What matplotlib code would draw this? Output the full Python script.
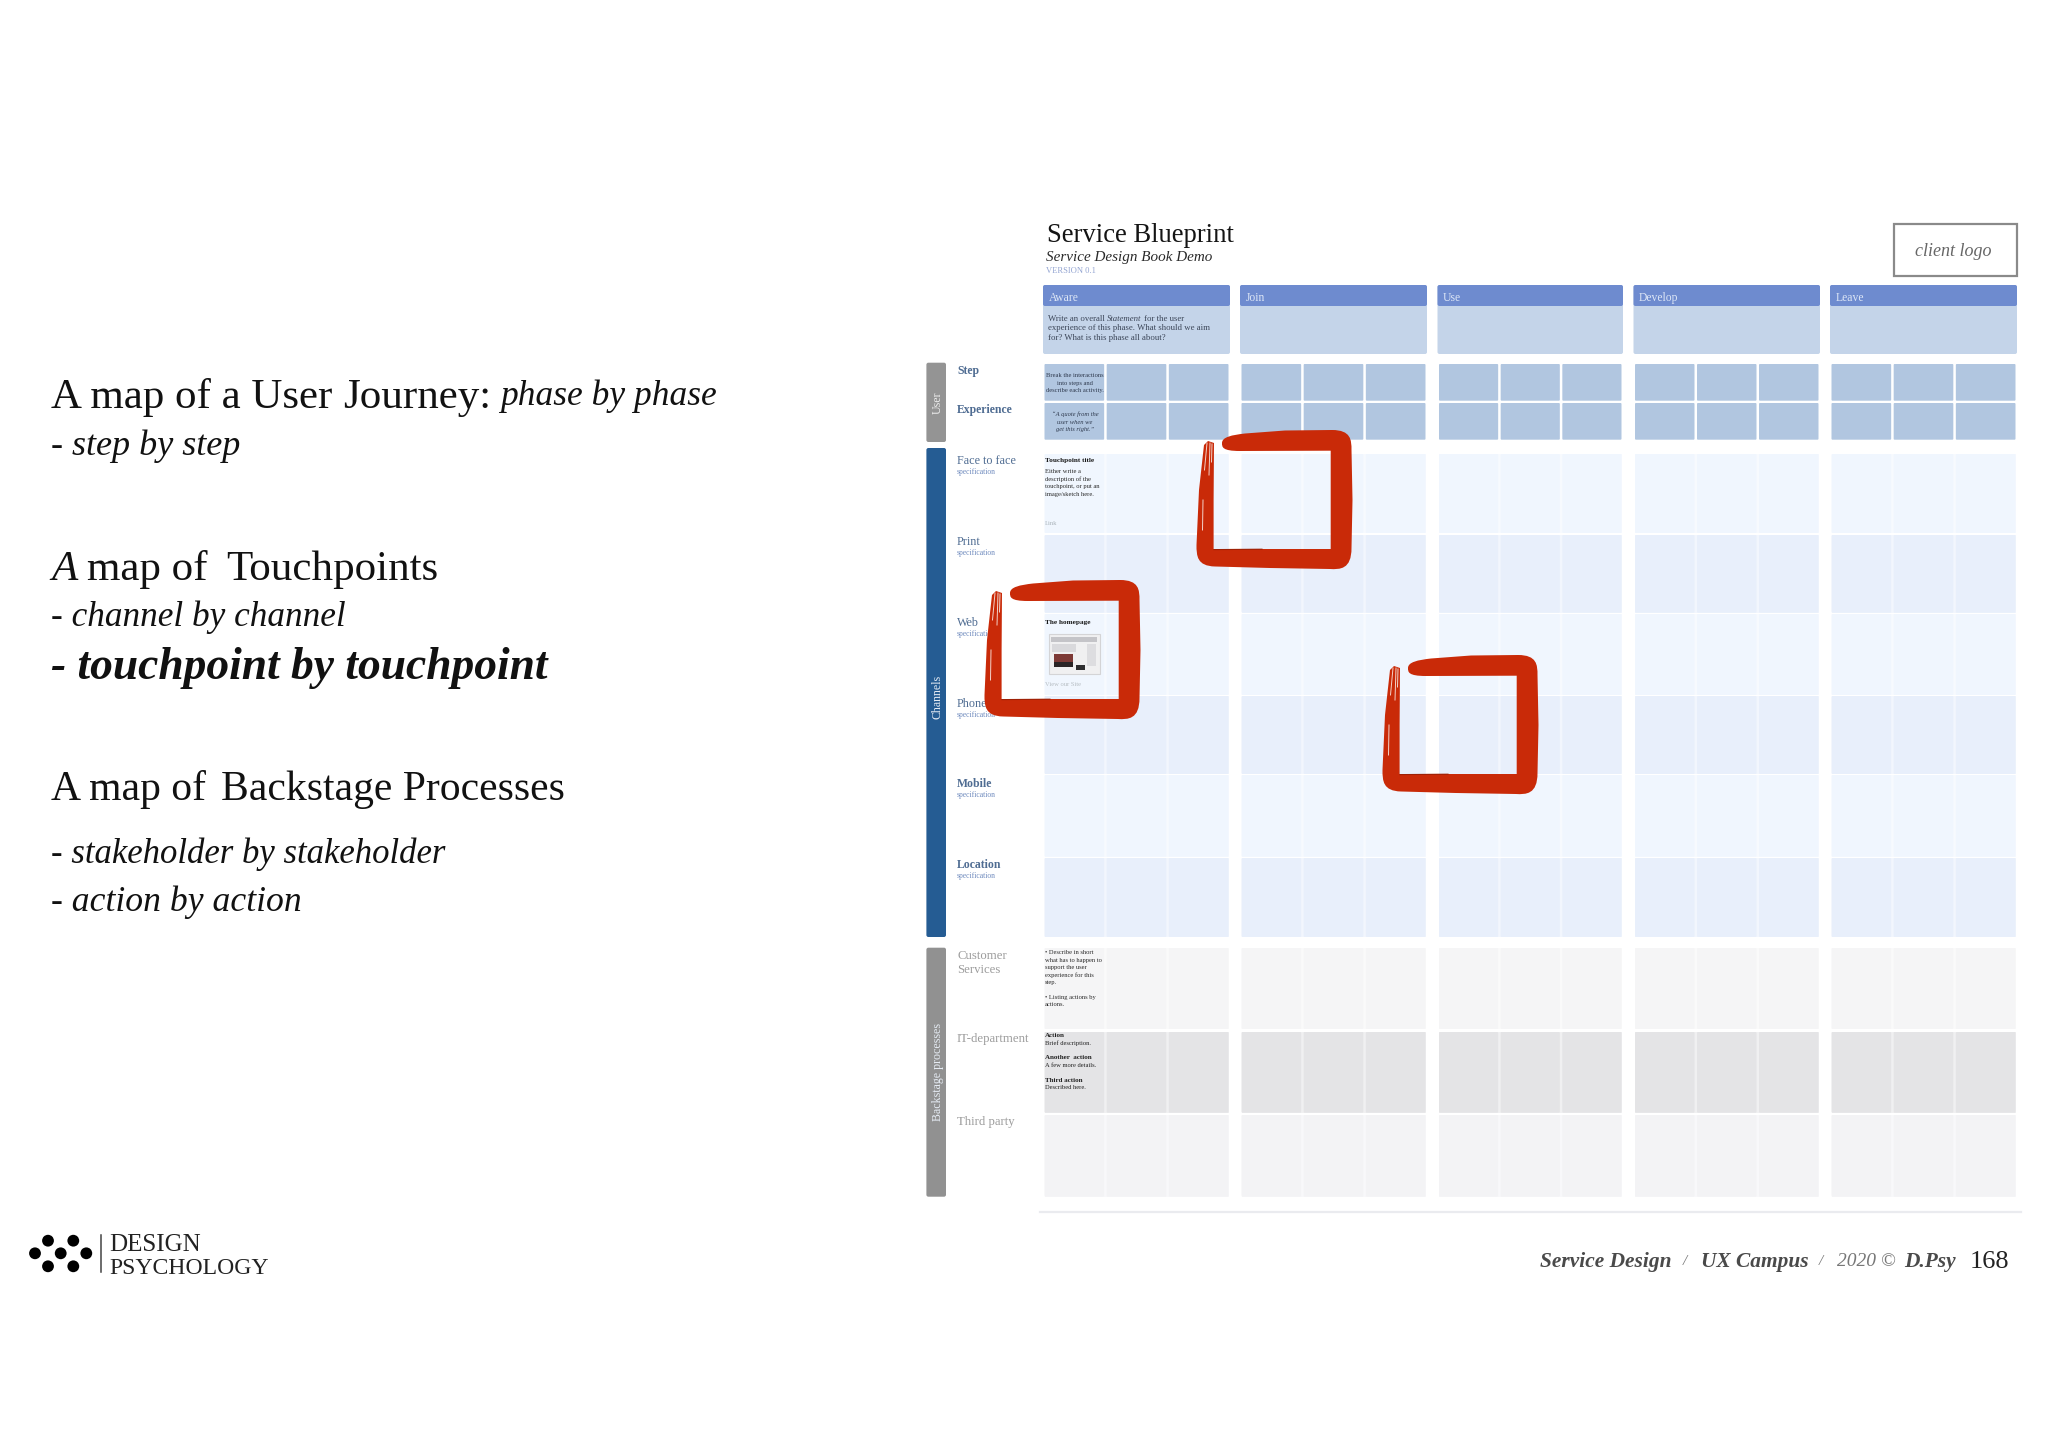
import matplotlib
matplotlib.use("Agg")
import matplotlib.pyplot as plt
from matplotlib.colors import to_rgb
from matplotlib.patches import FancyBboxPatch, Rectangle, Circle, PathPatch
from matplotlib.path import Path

SERIF = "Liberation Serif"
plt.rcParams["font.family"] = [SERIF, "DejaVu Serif"]

# ---- content ----
PHASES = ["Aware", "Join", "Use", "Develop", "Leave"]
USER_ROWS = ["Step", "Experience"]
CHANNEL_ROWS = ["Face to face", "Print", "Web", "Phone", "Mobile", "Location"]
BACKSTAGE_ROWS = ["Customer\nServices", "IT-department", "Third party"]
SIDEBARS = ["User", "Channels", "Backstage processes"]

# ---- layout (pixels) ----
PHASE_X = [(1043, 1230), (1240, 1427), (1437.5, 1623), (1633.5, 1820), (1830, 2017)]
USER_Y = [(364, 400.7), (403, 439.7)]
CHANNEL_Y = [(454, 533), (535, 612.7), (614, 695), (696, 774), (775, 856.7), (858, 937)]
BACKSTAGE_Y = [(948, 1029), (1032, 1112.7), (1115, 1196.7)]
SIDEBAR_Y = [(362.7, 442), (448, 937), (947.7, 1196.7)]
SIDEBAR_SHIFT = [0, 4, 0]
SIDEBAR_COL = ["#949494", "#255C93", "#919191"]
CHANNEL_COL = ["#F0F6FE", "#E8EFFB", "#F0F6FE", "#E8EFFB", "#F0F6FE", "#E8EFFB"]
BACKSTAGE_COL = ["#F5F5F6", "#E4E4E6", "#F3F3F5"]
SQUARE_OFFSETS = [(0, 0), (-212, 150), (186, 225)]

fig = plt.figure(figsize=(20.48, 14.47), dpi=100, facecolor="white")
ax = fig.add_axes([0, 0, 1, 1])
ax.set_xlim(0, 2048)
ax.set_ylim(1447, 0)
ax.axis("off")
renderer = fig.canvas.get_renderer()


def rbox(x0, y0, x1, y1, color, r=2.0, z=1):
    ax.add_patch(FancyBboxPatch((x0, y0), x1 - x0, y1 - y0,
                                boxstyle=f"round,pad=0,rounding_size={r}",
                                fc=color, ec="none", zorder=z))


def fade(color, k):
    return tuple(1 - (1 - v) * k for v in to_rgb(color))


def txt(x, y, s, size, color="#111111", style="normal", weight="normal", ha="left", z=5, **kw):
    # y is the middle of the capitals: the baseline sits a third of an em below it
    return ax.text(x, y + 0.32 * size * 100 / 72, s, fontsize=size, color=color, style=style,
                   weight=weight, ha=ha, va="baseline", zorder=z, **kw)


def spans(x, y, parts, color="#111111", z=5):
    """Write consecutive pieces with different styles on a line."""
    for s, size, style, weight, g in parts:
        t = txt(x, y, s, size, color, style, weight, z=z)
        x += t.get_window_extent(renderer).width + g
    return x


# ---------- left column ----------
LX = 51
spans(LX, 394, [("A map of a User", 31, "normal", "normal", 11),
                ("Journey:", 31, "normal", "normal", 9),
                ("phase by phase", 25.5, "italic", "normal", 0)])
txt(LX, 443, "- step by step", 26, style="italic")
spans(LX, 566, [("A", 31, "italic", "normal", 10),
                ("map of", 31, "normal", "normal", 18),
                ("Touchpoints", 31, "normal", "normal", 0)])
txt(LX, 615, "- channel by channel", 25.4, style="italic")
txt(LX, 664, "- touchpoint by touchpoint", 32.8, style="italic", weight="bold")
spans(LX, 787, [("A map of", 30, "normal", "normal", 15),
                ("Backstage Processes", 30, "normal", "normal", 0)])
txt(LX, 852, "- stakeholder by stakeholder", 25, style="italic")
txt(LX, 900, "- action by action", 25.7, style="italic")

# ---------- logo ----------
for cx, cy in [(48, 1240.7), (73.3, 1240.7), (35, 1253.3), (60.7, 1253.3), (86.3, 1253.3),
               (48, 1266.3), (73.3, 1266.3)]:
    ax.add_patch(Circle((cx, cy), 5.9, fc="black", ec="none", zorder=3))
ax.plot([100.7, 100.7], [1235, 1272], color="#444444", lw=1.1, zorder=3)
txt(109, 1243, "DESIGN", 18, "#222222")
txt(109, 1266, "PSYCHOLOGY", 17.1, "#222222")

# ---------- blueprint title ----------
txt(1047, 233, "Service Blueprint", 19.2, "#141414")
txt(1046, 256, "Service Design Book Demo", 10.9, "#2A2A2A", style="italic", weight="normal")
txt(1046, 270, "VERSION 0.1", 6.1, "#94A5D2")
ax.add_patch(Rectangle((1894, 224), 123, 52, fc="white", ec="#8A8A8A", lw=1.6, zorder=2))
txt(1953, 250, "client logo", 13, "#666666", style="italic", ha="center")

# ---------- phases and grids ----------
for name, (x0, x1) in zip(PHASES, PHASE_X):
    rbox(x0, 285, x1, 354, "#C4D4E9", 2)
    rbox(x0, 285, x1, 306, "#6E8BCF", 2, z=2)
    txt(x0 + 5.4, 297, name, 8.4, "#DDE6F6")
    # faint bands behind the cells keep the gutters soft in the pale rows
    for (y0, y1), c in zip(CHANNEL_Y, CHANNEL_COL):
        ax.add_patch(Rectangle((x0 + 1.5, y0), x1 - x0 - 3, y1 - y0, fc=fade(c, 0.55), ec="none", zorder=0.5))
    for (y0, y1), c in zip(BACKSTAGE_Y, BACKSTAGE_COL):
        ax.add_patch(Rectangle((x0 + 1.5, y0), x1 - x0 - 3, y1 - y0, fc=fade(c, 0.55), ec="none", zorder=0.5))
    w = (x1 - x0 - 3 - 5) / 3
    for k in range(3):
        cx0 = x0 + 1.5 + k * (w + 2.5)
        cx1 = cx0 + w
        for (y0, y1) in USER_Y:
            rbox(cx0, y0, cx1, y1, "#B1C6E0", 1)
        for (y0, y1), c in zip(CHANNEL_Y, CHANNEL_COL):
            rbox(cx0, y0, cx1, y1, c, 1)
        for (y0, y1), c in zip(BACKSTAGE_Y, BACKSTAGE_COL):
            rbox(cx0, y0, cx1, y1, c, 1)

ax.plot([1040, 2021], [1211.7, 1211.7], color="#EAEBEF", lw=1.6, zorder=1)

# ---------- side bars ----------
for name, (y0, y1), c, dy in zip(SIDEBARS, SIDEBAR_Y, SIDEBAR_COL, SIDEBAR_SHIFT):
    rbox(926.4, y0, 946, y1, c, 2, z=2)
    ax.text(937.5, (y0 + y1) / 2 + dy, name, rotation=90,
            fontsize=8.6, color="#E6ECF4" if name != "User" else "#EDEDED",
            ha="center", va="center", zorder=5)

# ---------- row labels ----------
LAB = 957
for name, y in zip(USER_ROWS, [370, 409]):
    txt(LAB, y, name, 8.5, "#4F6C92", weight="bold")
for name, y in zip(CHANNEL_ROWS, [460, 541, 622, 703, 783, 864]):
    bold = name in ("Mobile", "Location")
    txt(LAB, y, name, 8.5 if bold else 8.7, "#4F6C92", weight="bold" if bold else "normal")
    txt(LAB, y + 12, "specification", 5.5, "#6F8BBE")
txt(LAB, 955, "Customer", 9.2, "#9C9C9C")
txt(LAB, 968.5, "Services", 9.2, "#9C9C9C")
txt(LAB, 1038, "IT-department", 9.2, "#9C9C9C")
txt(LAB, 1121, "Third party", 9.2, "#9C9C9C")

# ---------- sample content in the first column ----------
SM = 4.7
spans(1048, 318, [("Write an overall", 6.3, "normal", "normal", 2.2),
                  ("Statement", 6.3, "italic", "normal", 2.2),
                  ("for the user", 6.3, "normal", "normal", 0)], color="#3C4658")
txt(1048, 327.5, "experience of this phase. What should we aim", 6.3, "#3C4658")
txt(1048, 337, "for? What is this phase all about?", 6.3, "#3C4658")

for s, y in zip(["Break the interactions", "into steps and", "describe each activity."], [375, 383, 390]):
    txt(1075, y, s, SM, "#2F3A4E", ha="center")
for s, y in zip(["\u201cA quote from the", "user when we", "get this right.\u201d"], [414, 421.5, 429]):
    txt(1075, y, s, SM, "#2F3A4E", style="italic", ha="center")

TX = 1045
txt(TX, 459.5, "Touchpoint title", 5.2, "#1A1A1A", weight="bold")
for s, y in zip(["Either write a", "description of the", "touchpoint, or put an", "image/sketch here."],
                [471, 478.5, 486, 493.5]):
    txt(TX, y, s, SM, "#2A2A2A")
txt(TX, 523, "Link", SM, "#A9B2B8")

txt(TX, 622, "The homepage", 5.2, "#1A1A1A", weight="bold")
# small screenshot placeholder
ax.add_patch(Rectangle((1048.6, 634), 51.4, 40, fc="#F0F0F1", ec="#D4D4D6", lw=0.8, zorder=3))
ax.add_patch(Rectangle((1051, 637), 46, 5, fc="#C4C4C8", ec="none", zorder=4))
ax.add_patch(Rectangle((1052, 644), 24, 8, fc="#D9D9DC", ec="none", zorder=4))
ax.add_patch(Rectangle((1054, 654), 19, 13, fc="#7D3A36", ec="none", zorder=4))
ax.add_patch(Rectangle((1054, 662), 19, 5, fc="#2A2426", ec="none", zorder=4))
ax.add_patch(Rectangle((1076, 665), 9, 5, fc="#2E2E30", ec="none", zorder=4))
ax.add_patch(Rectangle((1087, 644), 9, 22, fc="#DDDDE0", ec="none", zorder=4))
txt(TX, 684, "View our Site", SM, "#B6BDC2")

for s, y in zip(["\u2022 Describe in short", "what has to happen to", "support the user",
                 "experience for this", "step.", "\u2022 Listing actions by", "actions."],
                [952, 959.5, 967, 974.5, 982, 997, 1004]):
    txt(TX, y, s, SM, "#2A2A2A")
for s, y, w in zip(["Action", "Brief description.", "Another  action", "A few more details.",
                    "Third action", "Described here."],
                   [1035, 1042.5, 1057, 1064.5, 1079.5, 1087],
                   ["bold", "normal", "bold", "normal", "bold", "normal"]):
    txt(TX, y, s, SM + (0.3 if w == "bold" else 0), "#222222", weight=w)

# ---------- red brush squares ----------
M, L, C3, C4, Z = Path.MOVETO, Path.LINETO, Path.CURVE3, Path.CURVE4, Path.CLOSEPOLY
brush = [
    ((1222, 443), M), ((1222, 437), C4), ((1232, 435), C4), ((1245, 433.5), C4),
    ((1285, 430.5), L), ((1332, 430), L),
    ((1351, 430), C4), ((1351.5, 440), C4), ((1351.5, 450), C4),
    ((1352.5, 500), L), ((1351.5, 548), L),
    ((1351.5, 569.5), C4), ((1340, 569.5), C4), ((1330, 569), C4),
    ((1270, 568), L), ((1215, 566.5), L),
    ((1197, 566), C4), ((1196.5, 556), C4), ((1196.5, 545), C4),
    ((1199, 490), L), ((1204, 445), L), ((1208, 441), L), ((1214, 443), L),
    ((1213.6, 500), L), ((1213.6, 549), L),
    ((1262, 549), L), ((1330.7, 549), L),
    ((1330.7, 450.7), L), ((1240, 451), L),
    ((1222, 451), C4), ((1222, 447), C4), ((1222, 443), C4),
    ((1222, 443), Z),
]
verts = [p for p, _ in brush]
codes = [c for _, c in brush]
RED = "#C92A08"
for dx, dy in SQUARE_OFFSETS:
    ax.add_patch(PathPatch(Path([(x + dx, y + dy) for x, y in verts], codes),
                           fc=RED, ec="none", zorder=8))
    for a, b, c, d in [(1207, 443, 1204.5, 470), (1210, 443, 1209, 475), (1212, 444, 1211.5, 462),
                       (1203, 500, 1202.5, 530)]:
        ax.plot([a + dx, c + dx], [b + dy, d + dy], color="#F3D3CA", lw=0.7, zorder=9)
    ax.plot([1214 + dx, 1262 + dx], [549.6 + dy, 549.2 + dy], color="#9E2106", lw=0.8, zorder=9)

# ---------- footer ----------
FC = "#4A4A4A"
txt(1540, 1260, "Service Design", 15.4, FC, style="italic", weight="bold")
txt(1685, 1260, "/", 11, "#777777", style="italic", ha="center")
txt(1701, 1260, "UX Campus", 15.4, FC, style="italic", weight="bold")
txt(1821, 1260, "/", 11, "#777777", style="italic", ha="center")
txt(1837, 1260, "2020 \u00a9", 14, "#777777", style="italic")
txt(1904, 1260, "D.Psy", 15.4, FC, style="italic", weight="bold")
txt(1970, 1260, "168", 19, "#222222")

fig.savefig("out.png", dpi=100, facecolor="white")
